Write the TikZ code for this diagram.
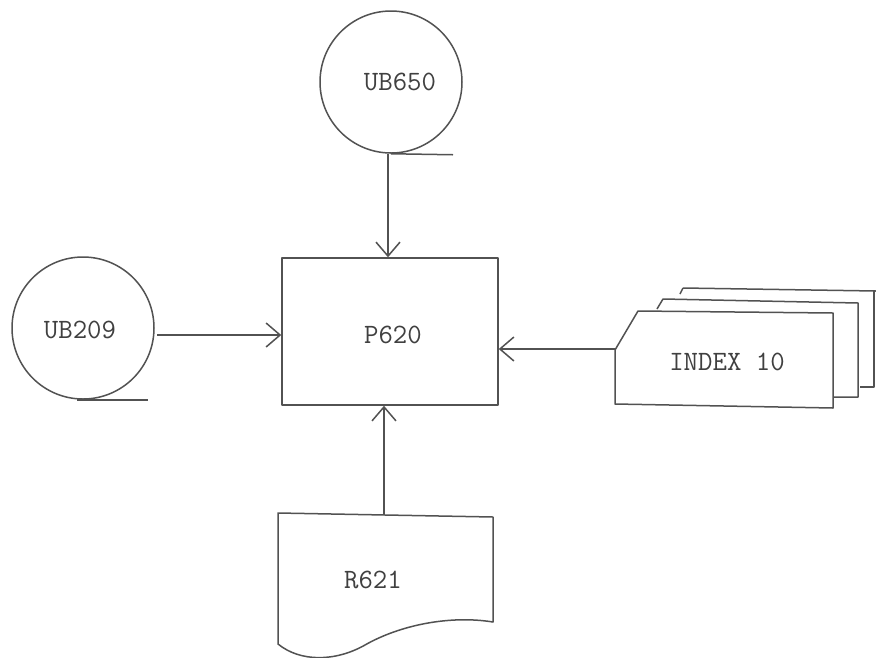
\documentclass[tikz,border=0pt]{standalone}
\usetikzlibrary{arrows.meta,calc}
\begin{document}
\begin{tikzpicture}[x=1pt,y=-1pt,
  ink/.style={draw=black!68,line width=1.5pt,line join=round},
  lbl/.style={text=black!75,font=\fontsize{28}{30}\selectfont\ttfamily},
  tape/.style={ink,circle,minimum size=142pt,inner sep=0pt},
  arr/.style={ink,-{Straight Barb[length=14pt,width=24pt,line width=1.5pt]}}]
\useasboundingbox[fill=white] (0,0) rectangle (876,657);
% tapes
\node[tape] (ub650) at (391,82) {};
\node[lbl] (t650) at (400,82) {UB650};
\draw[ink] (ub650.south) -- ++(62,1) coordinate (ub650tail);
\node[tape] (ub209) at (83,328) {};
\node[lbl] (t209) at (80,330) {UB209};
\draw[ink] ([xshift=-6pt]ub209.south) -- ++(71,0) coordinate (ub209tail);
% process box
\node[ink,rectangle,minimum width=216pt,minimum height=147pt,inner sep=0pt] (p620) at (390,331.5) {};
\node[lbl] (t620) at (393,335) {P620};
% cards
\draw[ink,fill=white] (683,288) -- (876,291);
\draw[ink] (683,288) -- (680,294);
\draw[ink] (874,291) -- (874,387) -- (860,387);
\draw[ink,fill=white] (657,309) -- (663,299) -- (858,303) -- (858,397) -- (833,397);
\draw[ink,fill=white] (615,350) -- (638,311) -- (833,313) -- (833,408) -- (615,404) -- cycle;
\coordinate (idx) at (615,349);
\node[lbl] (tidx) at (727,362) {INDEX 10};
% document
\draw[ink,fill=white] (278,513) -- (493,517) -- (493,622)
  .. controls (450,615) and (400,625) .. (365,645)
  .. controls (335,662) and (300,662) .. (278,644) -- cycle;
\coordinate (r621) at (384,515);
\node[lbl] (t621) at (373,580) {R621};
% connectors
\draw[arr] ([xshift=-3pt]ub650.south) -- ([xshift=-3pt]ub650.south |- p620.north);
\coordinate (ub209out) at (157,335);
\draw[arr] (ub209out) -- (ub209out -| p620.west);
\draw[arr] (idx) -- (idx -| p620.east);
\draw[arr] (r621) -- (r621 |- p620.south);
\end{tikzpicture}
\end{document}
